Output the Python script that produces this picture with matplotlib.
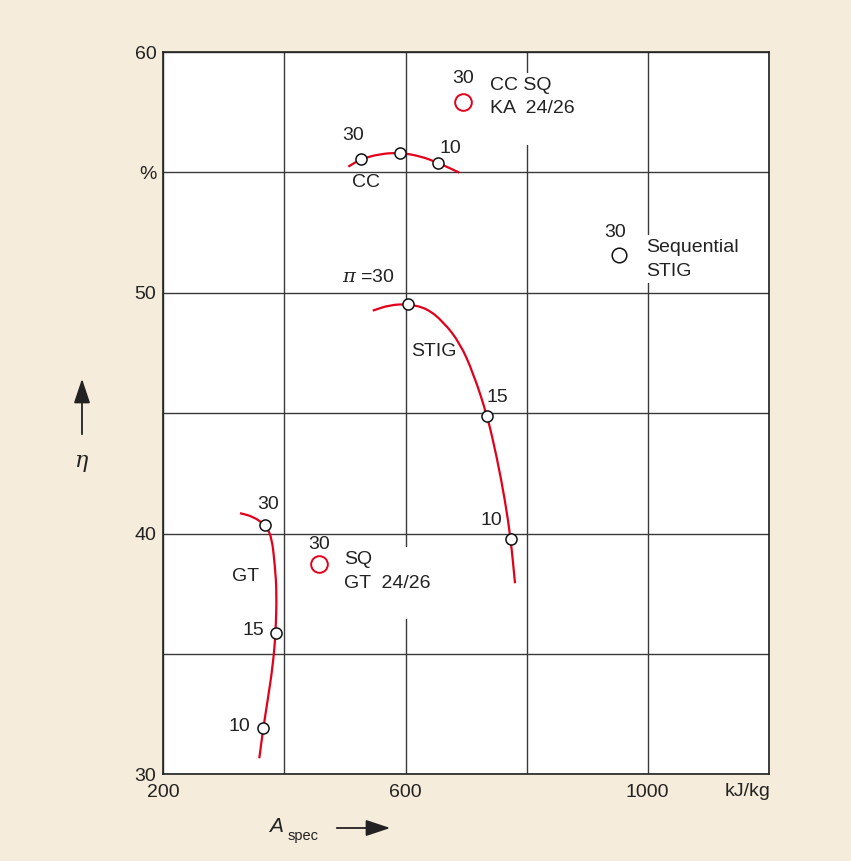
import matplotlib
matplotlib.use("Agg")
import matplotlib.pyplot as plt
from matplotlib.path import Path
from matplotlib.patches import PathPatch, FancyArrowPatch

plt.rcParams['font.family'] = ['Liberation Sans', 'DejaVu Sans']
plt.rcParams['mathtext.fontset'] = 'dejavuserif'

# ---- data ----
gt_curve_x = [326.5, 348.5, 367.8, 378.9, 384.4, 387.2, 385.5, 380.6, 372.3, 365.0, 358.4]
gt_curve_y = [40.85, 40.71, 40.36, 39.88, 38.63, 37.54, 35.86, 34.48, 33.09, 31.92, 30.67]
gt_pts_x = [367.8, 385.5, 365.0]
gt_pts_y = [40.36, 35.86, 31.92]

stig_curve_x = [545.8, 574.4, 604.6, 635.0, 662.4, 690.0, 712.0, 735.1, 750.6, 764.3, 773.8, 780.9]
stig_curve_y = [49.26, 49.50, 49.53, 49.36, 48.80, 47.91, 46.66, 44.89, 43.20, 41.40, 39.77, 37.94]
stig_pts_x = [604.6, 735.1, 773.8]
stig_pts_y = [49.53, 44.89, 39.77]

cc_curve_x = [505.5, 526.0, 557.8, 590.9, 623.9, 653.2, 688.9]
cc_curve_y = [55.24, 55.55, 55.77, 55.82, 55.68, 55.41, 54.99]
cc_pts_x = [526.0, 590.9, 653.2]
cc_pts_y = [55.55, 55.82, 55.41]

sq_gt_x, sq_gt_y = [457.0], [38.73]
cc_sq_x, cc_sq_y = [695.0], [57.93]
seq_stig_x, seq_stig_y = [953.3], [51.57]

x_ticks = [200, 400, 600, 800, 1000, 1200]
x_ticklabels = ['200', '', '600', '', '1000', '']
y_ticks = [30, 35, 40, 45, 50, 55, 60]
y_ticklabels = ['30', '', '40', '', '50', '%', '60']

RED = '#e2001a'
BG = '#f6ecdb'
FS = 14

fig = plt.figure(figsize=(8.51, 8.61), dpi=100, facecolor=BG)
ax = fig.add_axes([0.192, 0.1005, 0.7113, 0.8391])
ax.set_facecolor('white')
ax.set_xlim(200, 1200)
ax.set_ylim(30, 60)
ax.set_xticks(x_ticks)
ax.set_xticklabels(x_ticklabels)
ax.set_yticks(y_ticks)
ax.set_yticklabels(y_ticklabels)
ax.tick_params(length=0, labelsize=FS, colors='#222222')
ax.tick_params(axis='x', pad=7)
ax.tick_params(axis='y', pad=5)
ax.grid(True, color='#3a3a3a', lw=1.0, zorder=0)
ax.set_axisbelow(True)
for s in ax.spines.values():
    s.set_color('#222222')
    s.set_linewidth(1.2)


def smooth_path(xs, ys):
    """Quadratic-Bezier path through the read points (points act as controls)."""
    pts = list(zip(xs, ys))
    verts = [pts[0]]
    codes = [Path.MOVETO]
    mids = [((pts[i][0] + pts[i + 1][0]) / 2, (pts[i][1] + pts[i + 1][1]) / 2)
            for i in range(len(pts) - 1)]
    verts.append(mids[0]); codes.append(Path.LINETO)
    for i in range(1, len(pts) - 1):
        verts += [pts[i], mids[i]]
        codes += [Path.CURVE3, Path.CURVE3]
    verts.append(pts[-1]); codes.append(Path.LINETO)
    return Path(verts, codes)


for cx, cy in [(gt_curve_x, gt_curve_y), (stig_curve_x, stig_curve_y), (cc_curve_x, cc_curve_y)]:
    ax.add_patch(PathPatch(smooth_path(cx, cy), fc='none', ec=RED, lw=1.6, zorder=3,
                           capstyle='butt'))
for px, py in [(gt_pts_x, gt_pts_y), (stig_pts_x, stig_pts_y), (cc_pts_x, cc_pts_y)]:
    ax.plot(px, py, 'o', ms=8, mfc='white', mec='#111111', mew=1.1, zorder=4, ls='none')

ax.plot(sq_gt_x, sq_gt_y, 'o', ms=12, mfc='white', mec=RED, mew=1.4, zorder=4)
ax.plot(cc_sq_x, cc_sq_y, 'o', ms=12, mfc='white', mec=RED, mew=1.4, zorder=4)
ax.plot(seq_stig_x, seq_stig_y, 'o', ms=10.5, mfc='white', mec='#111111', mew=1.1, zorder=4)

tc = '#222222'


def t(x, y, s, ha='center', va='center', **kw):
    ax.text(x, y, s, ha=ha, va=va, fontsize=FS, color=tc, zorder=5, **kw)


box = dict(boxstyle='square,pad=0.2', fc='white', ec='none')

t(695, 58.9, '30')
t(739.6, 57.64, 'CC SQ\nKA  24/26\n ', ha='left', linespacing=1.5, bbox=box)
t(946, 52.49, '30')
t(997.3, 51.39, 'Sequential\nSTIG', ha='left', linespacing=1.5, bbox=box)
t(457, 39.57, '30')
t(498.4, 37.95, 'SQ\nGT  24/26\n ', ha='left', linespacing=1.5, bbox=box)

t(513.2, 56.52, '30')
t(674.6, 55.99, '10')
t(534.2, 54.58, 'CC')
t(582.6, 50.62, r'$\pi$ =30', ha='right')
t(647, 47.56, 'STIG')
t(752.3, 45.66, '15')
t(742.4, 40.53, '10')
t(372.3, 41.23, '30')
t(336.5, 38.21, 'GT')
t(366.7, 35.97, '15', ha='right')
t(344.2, 32.01, '10', ha='right')

fig.text(748 / 851, 1 - 791 / 861, 'kJ/kg', ha='center', va='center', fontsize=FS, color=tc)

fig.patches.append(FancyArrowPatch(
    (82 / 851, 1 - 437 / 861), (82 / 851, 1 - 376 / 861), transform=fig.transFigure,
    arrowstyle='-|>,head_length=15,head_width=5', color='#222222', lw=1.3, mutation_scale=1))
fig.text(82 / 851, 1 - 463 / 861, r'$\eta$', ha='center', va='center', fontsize=16, color=tc)

fig.text(276 / 851, 1 - 827 / 861, 'A', ha='center', va='center', fontsize=15, style='italic', color=tc)
fig.text(288 / 851, 1 - 836 / 861, 'spec', ha='left', va='center', fontsize=10.5, color=tc)
fig.patches.append(FancyArrowPatch(
    (334 / 851, 1 - 828 / 861), (393 / 851, 1 - 828 / 861), transform=fig.transFigure,
    arrowstyle='-|>,head_length=15,head_width=5', color='#222222', lw=1.3, mutation_scale=1))

fig.savefig('out.png', dpi=100, facecolor=BG)
